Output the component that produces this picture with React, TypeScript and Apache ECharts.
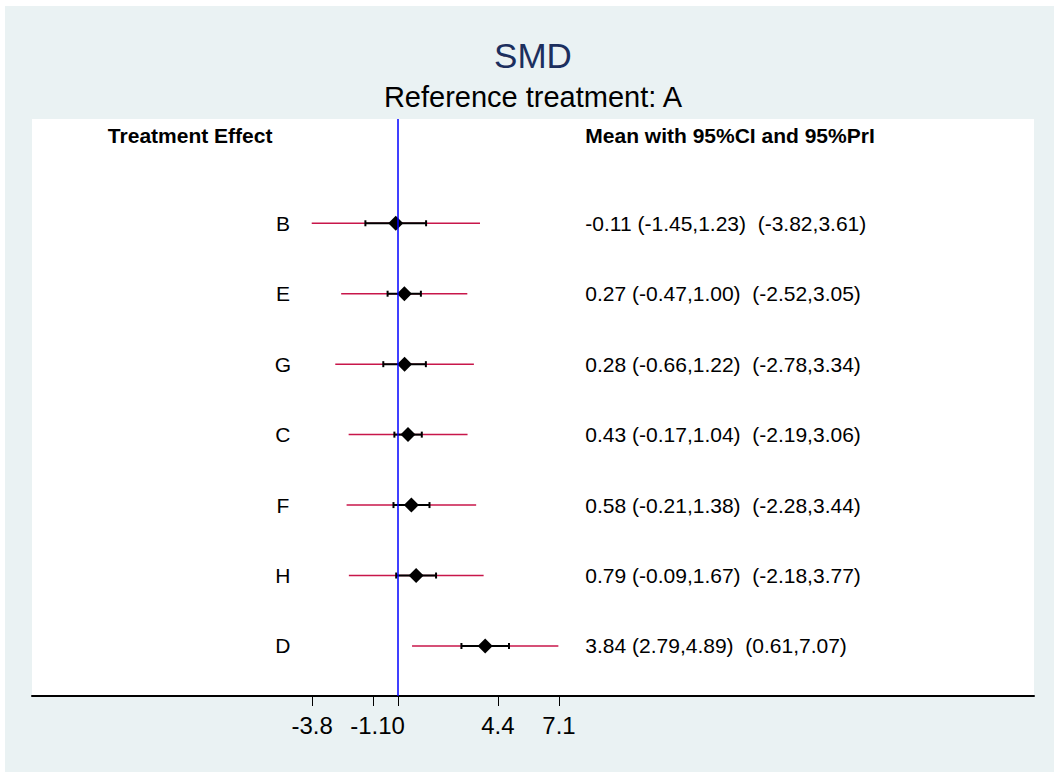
import React, { useEffect, useRef } from "react";
import * as echarts from "echarts";

const treatments = ["B", "E", "G", "C", "F", "H", "D"];
const means = [-0.11, 0.27, 0.28, 0.43, 0.58, 0.79, 3.84];
const ciLow = [-1.45, -0.47, -0.66, -0.17, -0.21, -0.09, 2.79];
const ciHigh = [1.23, 1.0, 1.22, 1.04, 1.38, 1.67, 4.89];
const priLow = [-3.82, -2.52, -2.78, -2.19, -2.28, -2.18, 0.61];
const priHigh = [3.61, 3.05, 3.34, 3.06, 3.44, 3.77, 7.07];
const rowY = [7, 6, 5, 4, 3, 2, 1];
const tickValues = [-3.8, -1.1, 0, 4.4, 7.1];
const tickLabels = ["-3.8", "-1.1", "0", "4.4", "7.1"];
const headerTexts = ["Treatment Effect", "Mean with 95%CI and 95%PrI"];
const titleText = "SMD";
const subtitleText = "Reference treatment: A";

// text placement (data coordinates)
const headerX = [-12.82, 8.26];
const headerY = 8.25;
const labelX = -5.09;
const annotX = 8.26;

const FONT = '"Liberation Sans", Arial, Helvetica, sans-serif';
const f2 = (v: number) => v.toFixed(2);
const annotations = treatments.map(
  (_, i) =>
    `${f2(means[i])} (${f2(ciLow[i])},${f2(ciHigh[i])})  (${f2(priLow[i])},${f2(priHigh[i])})`
);

export default function App() {
  const ref = useRef<HTMLDivElement>(null);
  useEffect(() => {
    const chart = echarts.init(ref.current!, null, { renderer: "svg" });
    const textSeries = (
      xs: number[],
      ys: number[],
      texts: string[],
      font: string,
      align: string
    ) => ({
      type: "custom",
      silent: true,
      clip: false,
      data: texts.map((_, i) => [xs[i], ys[i]]),
      renderItem: (params: any, api: any) => {
        const p = api.coord([api.value(0), api.value(1)]);
        return {
          type: "text",
          x: p[0],
          y: p[1],
          style: {
            text: texts[params.dataIndex],
            fill: "#000",
            font,
            align,
            verticalAlign: "middle",
          },
        };
      },
    });

    const option: any = {
      animation: false,
      backgroundColor: "#eaf2f3",
      textStyle: { fontFamily: FONT },
      graphic: [
        { type: "rect", left: 0, top: 0, shape: { width: 5, height: 772 }, style: { fill: "#fff" } },
        { type: "rect", left: 0, top: 0, shape: { width: 1054, height: 6 }, style: { fill: "#fff" } },
        {
          type: "text",
          x: 533,
          y: 55.5,
          style: {
            text: titleText,
            fill: "#1c2f5e",
            font: `35px ${FONT}`,
            align: "center",
            verticalAlign: "middle",
          },
        },
        {
          type: "text",
          x: 533,
          y: 96.5,
          style: {
            text: subtitleText,
            fill: "#000",
            font: `29px ${FONT}`,
            align: "center",
            verticalAlign: "middle",
          },
        },
      ],
      grid: {
        left: 32,
        right: 20,
        top: 119,
        bottom: 76,
        show: true,
        backgroundColor: "#fff",
        borderWidth: 0,
      },
      xAxis: {
        type: "value",
        min: -16.17,
        max: 28.07,
        splitLine: { show: false },
        axisLine: { show: true, lineStyle: { color: "#000", width: 2 } },
        axisTick: {
          show: true,
          customValues: tickValues,
          length: 10,
          lineStyle: { color: "#000", width: 1 },
        },
        axisLabel: {
          customValues: tickValues,
          formatter: (v: number) => {
            const i = tickValues.findIndex((t) => Math.abs(t - v) < 1e-9);
            if (i < 0) return "";
            return tickValues[i] === -1.1 ? `{n|${tickLabels[i]}}` : tickLabels[i];
          },
          fontSize: 24,
          color: "#000",
          margin: 17,
          rich: {
            n: {
              fontSize: 24,
              color: "#000",
              fontFamily: FONT,
              padding: [0, 5, 0, 0],
            },
          },
        },
      },
      yAxis: {
        type: "value",
        min: 0.29,
        max: 8.48,
        show: false,
      },
      series: [
        {
          type: "custom",
          silent: true,
          encode: { x: [0, 1], y: 2 },
          data: treatments.map((_, i) => [priLow[i], priHigh[i], rowY[i]]),
          renderItem: (params: any, api: any) => {
            const a = api.coord([api.value(0), api.value(2)]);
            const b = api.coord([api.value(1), api.value(2)]);
            return {
              type: "line",
              shape: { x1: a[0], y1: a[1], x2: b[0], y2: b[1] },
              style: { stroke: "#c8164a", lineWidth: 1.5 },
            };
          },
        },
        {
          type: "custom",
          silent: true,
          encode: { x: [0, 1], y: 2 },
          data: treatments.map((_, i) => [ciLow[i], ciHigh[i], rowY[i]]),
          renderItem: (params: any, api: any) => {
            const a = api.coord([api.value(0), api.value(2)]);
            const b = api.coord([api.value(1), api.value(2)]);
            const h = 3;
            const st = { stroke: "#000", lineWidth: 2 };
            return {
              type: "group",
              children: [
                { type: "line", shape: { x1: a[0], y1: a[1], x2: b[0], y2: b[1] }, style: st },
                { type: "line", shape: { x1: a[0], y1: a[1] - h, x2: a[0], y2: a[1] + h }, style: st },
                { type: "line", shape: { x1: b[0], y1: b[1] - h, x2: b[0], y2: b[1] + h }, style: st },
              ],
            };
          },
        },
        {
          type: "scatter",
          symbol: "diamond",
          symbolSize: 15,
          itemStyle: { color: "#000", opacity: 1 },
          silent: true,
          data: treatments.map((_, i) => [means[i], rowY[i]]),
          markLine: {
            silent: true,
            symbol: "none",
            label: { show: false },
            lineStyle: { color: "#0000ff", width: 1.5, type: "solid" },
            data: [{ xAxis: 0 }],
          },
        },
        textSeries(treatments.map(() => labelX), rowY, treatments, `21px ${FONT}`, "center"),
        textSeries(treatments.map(() => annotX), rowY, annotations, `21px ${FONT}`, "left"),
        textSeries(headerX, [headerY, headerY], headerTexts, `bold 21px ${FONT}`, "left"),
      ],
    };
    chart.setOption(option);
    return () => chart.dispose();
  }, []);
  return (
    <div
      ref={ref}
      style={{ position: "absolute", left: 0, top: 0, width: 1054, height: 772 }}
    />
  );
}
